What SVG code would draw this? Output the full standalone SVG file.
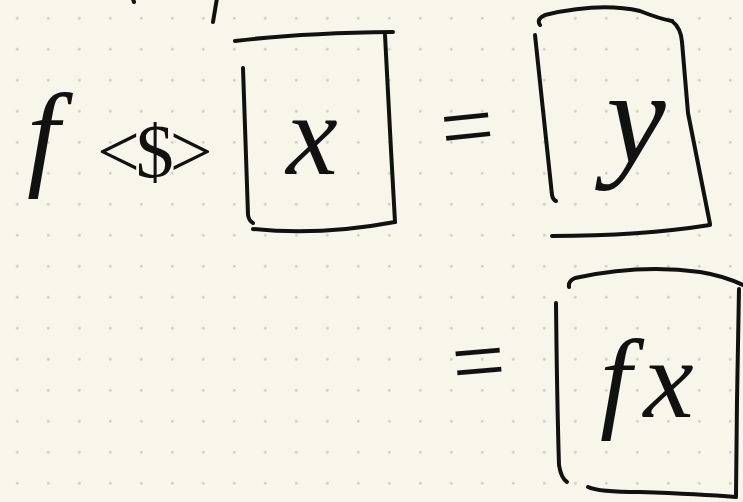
<svg xmlns="http://www.w3.org/2000/svg" width="743" height="502" viewBox="0 0 743 502">
  <style>
    .ink { fill: none; stroke: #111; stroke-width: 4; stroke-linecap: round; stroke-linejoin: round; }
    .math { font-family: "Liberation Serif", "Times New Roman", serif; font-style: italic; fill: #111; }
    .op { font-family: "Liberation Serif", "Times New Roman", serif; fill: #111; }
  </style>
  <defs>
    <pattern id="dots" x="1.8" y="2.8" width="31" height="31" patternUnits="userSpaceOnUse">
      <circle cx="15.5" cy="15.5" r="1.4" fill="#cfccc3"/>
    </pattern>
  </defs>
  <rect width="743" height="502" fill="#f8f6eb"/>
  <rect width="743" height="502" fill="url(#dots)"/>

  <g id="connectors">
    <path class="ink" d="M133,-1 L134,2"/>
    <path class="ink" d="M217,-2 Q215,10 213,22"/>
  </g>

  <g id="fmap-expr">
    <text class="math" x="27" y="174" font-size="117">f</text>
    <text class="op" x="97" y="177" font-size="76" letter-spacing="-4">&lt;$&gt;</text>
  </g>

  <g id="box-x">
    <path class="ink" d="M235,41 Q300,33 393,32"/>
    <path class="ink" d="M243,68 L248,215 Q249,221 253,223"/>
    <path class="ink" d="M385,35 L391,150 L395,222"/>
    <path class="ink" d="M253,229 Q320,236 395,222"/>
    <text class="math" x="312" y="174" font-size="116" text-anchor="middle">x</text>
  </g>

  <g id="eq-1">
    <text class="op" x="468" y="158" font-size="95" text-anchor="middle" transform="rotate(-6 468 134)">=</text>
  </g>

  <g id="box-y">
    <path class="ink" d="M540,25 Q536,19 545,15 Q600,2 640,11 Q660,19 672,21"/>
    <path class="ink" d="M672,21 Q681,28 682,42 L688,113 L710,224"/>
    <path class="ink" d="M535,35 Q543,110 552,195 Q553,200 556,201"/>
    <path class="ink" d="M552,236 Q640,236 710,225"/>
    <text class="math" x="636" y="163" font-size="134" text-anchor="middle">y</text>
  </g>

  <g id="eq-2">
    <text class="op" x="479" y="393" font-size="95" text-anchor="middle" transform="rotate(-5 479 369)">=</text>
  </g>

  <g id="box-fx">
    <path class="ink" d="M556,303 Q557,400 559,465 Q561,478 567,482"/>
    <path class="ink" d="M569,287 Q568,281 575,278 Q640,264 700,272 Q725,276 745,286"/>
    <path class="ink" d="M739,289 L737,400 L736,496"/>
    <path class="ink" d="M588,487 Q598,492 640,492 Q700,494 736,497"/>
    <text class="math" x="600" y="417" font-size="113" letter-spacing="12">fx</text>
  </g>
</svg>
